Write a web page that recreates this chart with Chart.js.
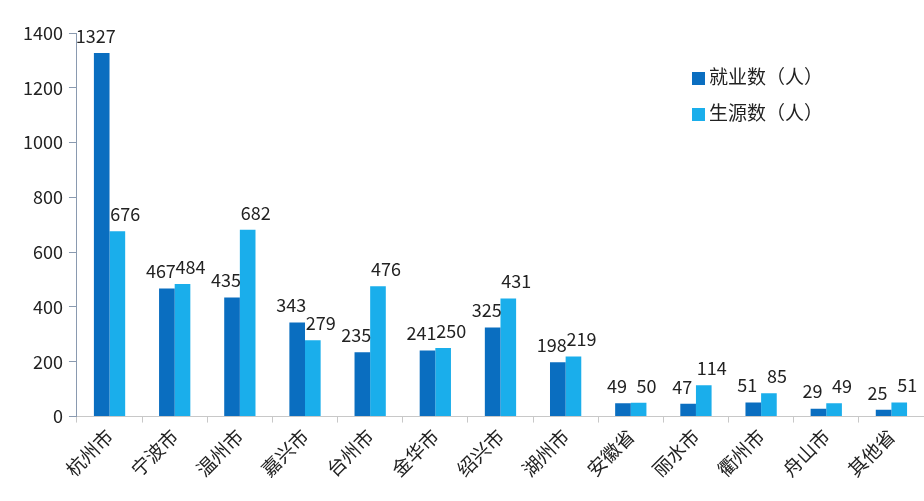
<!DOCTYPE html>
<html>
<head>
<meta charset="utf-8">
<script src="https://cdn.jsdelivr.net/npm/chart.js@4"></script>
<style>
  body { margin: 0; background: #fff; }
  #wrap { position: relative; width: 924px; height: 501px; }
  #legend { position: absolute; left: 692px; top: 58px; font-family: "Noto Sans CJK SC", sans-serif; font-size: 19px; color: #222; line-height: 36px; }
  #legend span.box { display: inline-block; width: 13px; height: 13px; margin-right: 4px; vertical-align: -1px; }
</style>
</head>
<body>
<div id="wrap">
  <canvas id="chart" width="924" height="501"></canvas>
  <div id="legend"></div>
</div>
<script>
const cities = ["杭州市", "宁波市", "温州市", "嘉兴市", "台州市", "金华市", "绍兴市", "湖州市", "安徽省", "丽水市", "衢州市", "舟山市", "其他省"];
const employed = [1327, 467, 435, 343, 235, 241, 325, 198, 49, 47, 51, 29, 25];
const students = [676, 484, 682, 279, 476, 250, 431, 219, 50, 114, 85, 49, 51];
const seriesNames = ["就业数（人）", "生源数（人）"];
const colors = ["#0A6EC0", "#1AAEEB"];

const font = "'Noto Sans CJK SC', 'Noto Sans', sans-serif";

// value labels above each bar
const barLabels = {
  id: "barLabels",
  afterDatasetsDraw(chart) {
    const ctx = chart.ctx;
    ctx.save();
    ctx.font = "18px " + font;
    ctx.fillStyle = "#222";
    ctx.textAlign = "center";
    ctx.textBaseline = "bottom";
    chart.data.datasets.forEach((ds, i) => {
      chart.getDatasetMeta(i).data.forEach((bar, j) => {
        ctx.fillText(ds.data[j], bar.x + (i === 0 ? -6 : 8), bar.y - 8);
      });
    });
    ctx.restore();
  }
};

new Chart("chart", {
  type: "bar",
  data: {
    labels: cities,
    datasets: [
      { label: seriesNames[0], data: employed, backgroundColor: colors[0] },
      { label: seriesNames[1], data: students, backgroundColor: colors[1] }
    ]
  },
  options: {
    responsive: false,
    animation: false,
    layout: { padding: { top: 33, right: 0, left: 17, bottom: 18 } },
    datasets: { bar: { categoryPercentage: 0.48, barPercentage: 1 } },
    plugins: { legend: { display: false }, tooltip: { enabled: false } },
    scales: {
      x: {
        grid: { display: true, drawOnChartArea: false, offset: true, tickLength: 6, color: "#c8c8c8" },
        border: { color: "#c8c8c8" },
        ticks: { minRotation: 45, maxRotation: 45, color: "#222", font: { family: font, size: 19 }, padding: 2 }
      },
      y: {
        min: 0, max: 1400,
        grid: { display: true, drawOnChartArea: false, tickLength: 8, color: "#8a9ab0" },
        border: { color: "#8a9ab0" },
        ticks: { stepSize: 200, color: "#222", font: { family: font, size: 18 }, padding: 6,
                 callback: v => String(v) }
      }
    }
  },
  plugins: [barLabels]
});

document.getElementById("legend").innerHTML = seriesNames.map((n, i) =>
  '<div><span class="box" style="background:' + colors[i] + '"></span>' + n + '</div>').join("");
</script>
</body>
</html>
